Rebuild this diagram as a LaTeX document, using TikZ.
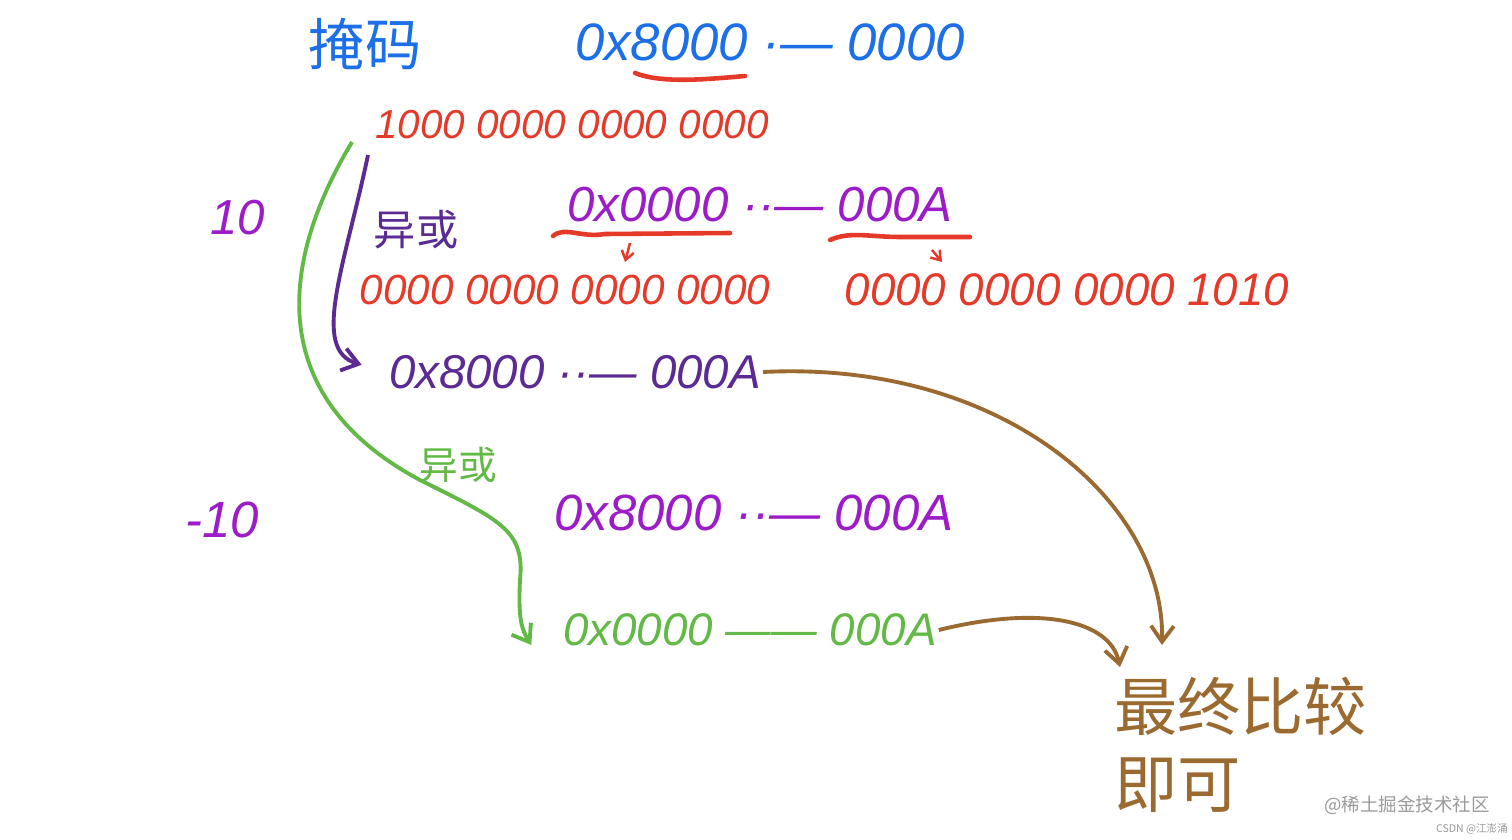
\documentclass[tikz,border=0pt]{standalone}
\usepackage{fontspec}
\setmainfont{Liberation Sans}
\newfontfamily\cjk{Noto Sans CJK SC}
\usetikzlibrary{arrows.meta,positioning,calc}
\definecolor{hwblue}{HTML}{1C6FE8}
\definecolor{hwred}{HTML}{E53A2A}
\definecolor{hwviolet}{HTML}{9C1CC8}
\definecolor{hwplum}{HTML}{5B2A92}
\definecolor{hwgreen}{HTML}{63B946}
\definecolor{hwbrown}{HTML}{9B6A30}
\definecolor{hwgrey}{HTML}{9A9A9A}

\begin{document}
\begin{tikzpicture}[
  x=0.02cm, y=-0.02cm,
  num/.style={inner sep=1pt, font=\itshape\fontsize{#1}{#1}\selectfont},
  num/.default=24,
  zh/.style={inner sep=1pt, font=\cjk\fontsize{#1}{#1}\selectfont},
  zh/.default=24,
  redline/.style={hwred, line width=2.6pt, line cap=round},
  redtip/.style={-{Straight Barb[length=5pt, width=7pt]}, hwred, line width=1.4pt},
  plumarr/.style={-{Straight Barb[length=9pt, width=13pt]}, hwplum, line width=2.2pt},
  greenarr/.style={-{Straight Barb[length=9pt, width=13pt]}, hwgreen, line width=2.2pt},
  brownarr/.style={-{Straight Barb[length=9pt, width=13pt]}, hwbrown, line width=2.2pt},
]
\fill[white] (0,0) rectangle (1512,839);
\useasboundingbox (0,0) rectangle (1512,839);

%% Mascara
\node[zh=32, text=hwblue]  (mask)    at (365,44)  {掩码};
\node[num=30, text=hwblue] (maskhex) at (770,42)  {0x8000 ·— 0000};
\draw[redline] (635,73) .. controls (660,83) and (700,80) .. (745,76);
\node[num=23, text=hwred]  (maskbin) at (572,125) {1000 0000 0000 0000};

%% 10
\node[num=28, text=hwviolet] (ten)     at (238,218)  {10};
\node[zh=24, text=hwplum]    (xorA)    at (416,230)  {异或};
\node[num=28, text=hwviolet] (tenhex)  at (760,205)  {0x0000 ··— 000A};
\draw[redline] (553,236) .. controls (565,226) and (580,238) .. (605,234) -- (730,233);
\draw[redline] (830,240) .. controls (850,231) and (870,237) .. (900,237) -- (970,237);
\draw[redtip] (630,243) -- (625,262);
\draw[redtip] (932,250) -- (942,262);
\node[num=24, text=hwred]    (tenbinL) at (565,290)  {0000 0000 0000 0000};
\node[num=26, text=hwred]    (tenbinR) at (1067,290) {0000 0000 0000 1010};
\node[num=27, text=hwplum]   (xorres)  at (575,372)  {0x8000 ··— 000A};

%% -10
\node[zh=22, text=hwgreen]   (xorB)    at (458,465)  {异或};
\node[num=29, text=hwviolet] (neg)     at (222,520)  {-10};
\node[num=29, text=hwviolet] (neghex)  at (754,513)  {0x8000 ··— 000A};
\node[num=26, text=hwgreen]  (negres)  at (750,630)  {0x0000 —— 000A};

%% Resultado
\node[zh=36, text=hwbrown, align=left, anchor=north west] (final) at (1112,675) {最终比较\\[8pt]即可};

%% Flechas
\coordinate (xorstart) at (368,155);
\coordinate (negstart) at (352,142);
\draw[plumarr, shorten >=15pt] (xorstart) .. controls (345,265) and (310,350) .. (xorres.west);
\draw[greenarr] (negstart) .. controls (275,270) and (270,400) .. (420,480)
  .. controls (500,520) and (525,530) .. (520,580)
  .. controls (518,620) and (522,630) .. ($(negres.west)+(-30,15)$);
\draw[brownarr] (xorres.east) .. controls (1000,360) and (1165,500) .. ($(final.north west)+(50,-30)$);
\draw[brownarr] (negres.east) .. controls (1040,605) and (1110,620) .. ($(final.north west)+(8,-8)$);

%% Marca de agua
\node[zh=10.5, text=hwgrey] (wm)  at (1407,805) {@稀土掘金技术社区};
\node[zh=6, text=hwgrey]    (wmb) at (1472,829) {CSDN @江澎涌};

\end{tikzpicture}
\end{document}
